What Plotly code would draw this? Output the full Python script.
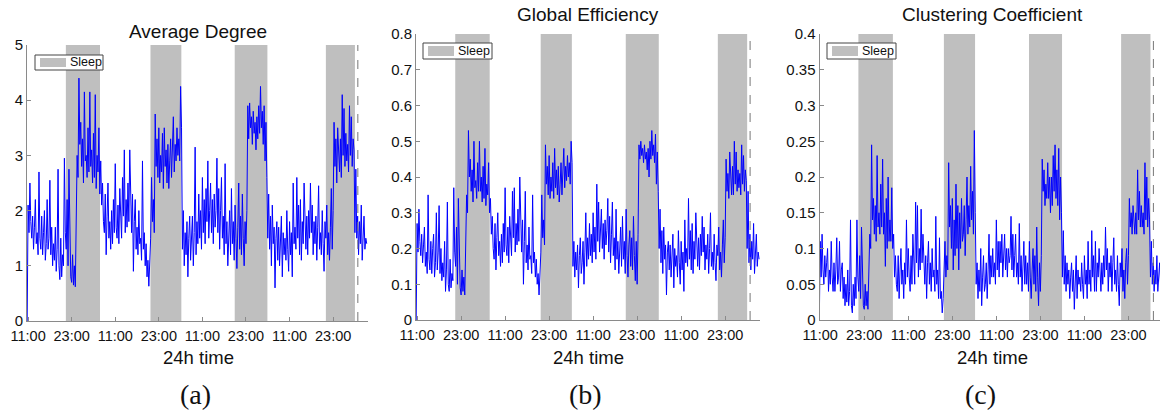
import plotly.graph_objects as go

# ---------------- data ----------------
# samples every 0.25 h, first sample at -0.25 h (0 h = 11:00 of day 1)
T_START = -0.25
T_STEP = 0.25

avg_degree = [
    0.0,
    2.1, 1.6, 2.5, 1.8,  1.5, 1.9, 1.3, 1.7,  2.2, 1.4, 1.6, 1.2,  2.7, 1.5, 1.3, 1.9,
    1.2, 1.6, 2.0, 1.1,  1.4, 2.2, 1.3, 1.5,  2.55, 1.2, 1.7, 1.0,  1.4, 1.1, 1.7, 0.9,
    1.3, 2.75, 1.0, 0.75,  1.5, 0.8, 1.2, 1.0,  2.95, 1.6, 1.3, 2.2,  1.0, 2.75, 1.4, 0.8,
    0.7, 1.2, 0.65, 1.0,  0.62, 1.9, 3.0, 2.6,  4.4, 3.2, 3.6, 2.8,  3.3, 2.5, 4.15, 2.9,
    3.0, 2.6, 3.5, 2.7,  4.15, 2.8, 3.1, 2.5,  3.4, 2.6, 4.1, 2.4,  3.0, 2.7, 3.5, 2.3,
    2.9, 2.1, 2.5, 1.8,  1.6, 2.3, 1.2, 1.9,  2.5, 1.5, 1.8, 1.3,  2.0, 1.4, 2.2, 1.6,
    2.85, 1.7, 1.5, 2.1,  1.4, 2.4, 1.8, 1.5,  2.6, 1.9, 3.1, 1.6,  2.2, 1.7, 2.5, 1.8,
    3.1, 2.0, 1.6, 2.3,  0.9, 1.8, 2.2, 1.3,  1.7, 1.2, 2.0, 1.4,  1.5, 1.1, 2.9, 1.3,
    1.6, 1.0, 1.4, 0.8,  1.1, 0.63, 1.0, 1.5,  2.6, 1.8, 2.2, 1.6,  3.75, 2.8, 3.3, 2.6,
    3.5, 2.5, 3.0, 2.7,  3.4, 2.4, 3.5, 2.8,  3.1, 2.5, 3.2, 2.4,  2.9, 3.3, 2.6, 3.0,
    3.7, 2.7, 3.2, 2.9,  3.5, 3.0, 3.3, 2.9,  4.25, 3.5, 1.3, 2.0,  1.0, 1.6, 1.2, 1.8,
    0.8, 1.5, 1.9, 1.1,  1.4, 1.9, 1.0, 1.6,  3.15, 1.2, 1.8, 1.4,  2.3, 1.5, 2.0, 1.3,
    2.6, 1.6, 2.2, 1.4,  2.4, 1.8, 2.9, 1.5,  2.0, 2.5, 1.6, 2.2,  1.4, 2.3, 1.7, 2.0,
    2.95, 1.6, 2.4, 1.3,  2.0, 2.6, 1.5, 1.9,  1.2, 2.85, 1.4, 1.8,  1.0, 1.7, 2.0, 1.2,
    2.4, 1.4, 1.8, 1.1,  2.1, 1.5, 0.95, 1.7,  2.5, 1.3, 1.9, 1.2,  2.3, 1.5, 1.0, 1.8,
    1.4, 2.0, 3.9, 3.3,  3.95, 3.5, 3.7, 3.2,  3.8, 3.4, 3.6, 3.1,  3.7, 3.3, 3.9, 3.4,
    4.25, 3.5, 3.8, 3.2,  3.9, 2.9, 3.6, 2.6,  1.5, 2.3, 1.3, 1.9,  1.0, 2.1, 1.4, 1.7,
    0.6, 1.5, 1.8, 1.1,  1.7, 1.0, 1.4, 1.9,  0.8, 1.6, 1.2, 1.5,  1.1, 2.0, 1.3, 0.9,
    1.8, 1.2, 1.6, 0.8,  2.5, 1.4, 1.7, 1.3,  2.6, 1.5, 2.1, 1.2,  2.2, 1.1, 1.8, 1.4,
    2.5, 1.6, 1.3, 1.9,  1.2, 2.0, 1.5, 2.5,  1.6, 2.1, 1.2, 1.8,  1.4, 1.9, 1.1, 1.7,
    2.45, 1.3, 1.6, 1.2,  2.0, 1.4, 0.9, 1.8,  1.5, 2.1, 1.2, 1.6,  1.1, 1.7, 2.4, 1.3,
    2.0, 3.6, 2.8, 3.3,  2.5, 3.5, 2.9, 2.7,  3.3, 2.6, 4.1, 3.0,  3.85, 2.8, 3.4, 2.9,
    3.2, 2.7, 3.9, 3.0,  3.7, 2.8, 3.3, 3.1,  1.6, 2.75, 1.5, 1.9,  1.2, 1.8, 1.4, 2.1,
    1.1, 1.6, 1.9, 1.3,  1.5, 1.4,
]

global_eff = [
    0.0,
    0.27, 0.19, 0.31, 0.22,  0.18, 0.24, 0.16, 0.21,  0.26, 0.15, 0.19, 0.13,  0.35, 0.17, 0.14, 0.22,
    0.13, 0.20, 0.24, 0.12,  0.16, 0.30, 0.14, 0.19,  0.32, 0.13, 0.20, 0.11,  0.16, 0.12, 0.22, 0.08,
    0.14, 0.33, 0.10, 0.08,  0.17, 0.09, 0.13, 0.11,  0.37, 0.19, 0.15, 0.26,  0.10, 0.34, 0.16, 0.09,
    0.07, 0.14, 0.08, 0.12,  0.07, 0.24, 0.35, 0.30,  0.53, 0.40, 0.45, 0.36,  0.42, 0.33, 0.50, 0.37,
    0.39, 0.34, 0.44, 0.36,  0.50, 0.36, 0.40, 0.33,  0.43, 0.34, 0.48, 0.32,  0.38, 0.35, 0.44, 0.30,
    0.34, 0.24, 0.29, 0.20,  0.17, 0.27, 0.14, 0.23,  0.30, 0.18, 0.22, 0.15,  0.24, 0.16, 0.27, 0.19,
    0.37, 0.21, 0.18, 0.26,  0.16, 0.29, 0.22, 0.18,  0.36, 0.23, 0.37, 0.19,  0.27, 0.21, 0.31, 0.22,
    0.40, 0.25, 0.19, 0.28,  0.10, 0.22, 0.36, 0.16,  0.21, 0.14, 0.26, 0.17,  0.18, 0.13, 0.35, 0.16,
    0.19, 0.12, 0.17, 0.10,  0.13, 0.07, 0.12, 0.19,  0.35, 0.23, 0.28, 0.21,  0.49, 0.38, 0.43, 0.35,
    0.46, 0.34, 0.40, 0.36,  0.44, 0.34, 0.48, 0.37,  0.42, 0.35, 0.43, 0.33,  0.38, 0.44, 0.35, 0.40,
    0.48, 0.37, 0.43, 0.39,  0.46, 0.40, 0.44, 0.38,  0.50, 0.44, 0.15, 0.22,  0.12, 0.19, 0.14, 0.21,
    0.09, 0.18, 0.23, 0.13,  0.16, 0.22, 0.10, 0.19,  0.30, 0.15, 0.23, 0.17,  0.27, 0.18, 0.24, 0.16,
    0.30, 0.19, 0.26, 0.17,  0.38, 0.22, 0.33, 0.19,  0.25, 0.31, 0.20, 0.27,  0.17, 0.28, 0.21, 0.25,
    0.34, 0.19, 0.29, 0.16,  0.24, 0.33, 0.18, 0.23,  0.14, 0.31, 0.17, 0.22,  0.13, 0.20, 0.26, 0.15,
    0.29, 0.17, 0.22, 0.13,  0.31, 0.18, 0.12, 0.21,  0.25, 0.15, 0.23, 0.14,  0.29, 0.18, 0.11, 0.22,
    0.10, 0.24, 0.49, 0.45,  0.50, 0.46, 0.48, 0.44,  0.49, 0.45, 0.47, 0.42,  0.48, 0.40, 0.50, 0.45,
    0.53, 0.46, 0.49, 0.44,  0.52, 0.38, 0.47, 0.36,  0.20, 0.31, 0.16, 0.25,  0.13, 0.26, 0.17, 0.21,
    0.07, 0.19, 0.22, 0.14,  0.21, 0.12, 0.17, 0.24,  0.09, 0.20, 0.15, 0.18,  0.12, 0.25, 0.16, 0.10,
    0.22, 0.14, 0.19, 0.08,  0.28, 0.16, 0.20, 0.15,  0.34, 0.17, 0.25, 0.14,  0.27, 0.13, 0.22, 0.17,
    0.30, 0.19, 0.15, 0.23,  0.14, 0.24, 0.18, 0.29,  0.19, 0.26, 0.14, 0.21,  0.17, 0.24, 0.13, 0.20,
    0.30, 0.15, 0.19, 0.14,  0.24, 0.16, 0.11, 0.21,  0.18, 0.26, 0.14, 0.19,  0.12, 0.21, 0.28, 0.16,
    0.23, 0.45, 0.36, 0.41,  0.34, 0.47, 0.37, 0.35,  0.43, 0.35, 0.50, 0.38,  0.47, 0.36, 0.42, 0.37,
    0.41, 0.35, 0.49, 0.38,  0.46, 0.36, 0.42, 0.39,  0.20, 0.36, 0.16, 0.24,  0.14, 0.22, 0.17, 0.27,
    0.13, 0.20, 0.24, 0.15,  0.19, 0.17,
]

clustering = [
    0.0,
    0.11, 0.06, 0.12, 0.07,  0.05, 0.09, 0.06, 0.08,  0.10, 0.04, 0.07, 0.05,  0.11, 0.06, 0.04, 0.08,
    0.04, 0.07, 0.115, 0.05,  0.06, 0.11, 0.04, 0.07,  0.08, 0.03, 0.06, 0.02,  0.05, 0.025, 0.07, 0.02,
    0.04, 0.14, 0.02, 0.01,  0.05, 0.02, 0.06, 0.03,  0.14, 0.06, 0.04, 0.09,  0.03, 0.13, 0.05, 0.02,
    0.015, 0.05, 0.02, 0.04,  0.015, 0.08, 0.12, 0.10,  0.245, 0.14, 0.17, 0.12,  0.16, 0.11, 0.23, 0.13,
    0.15, 0.12, 0.19, 0.13,  0.225, 0.12, 0.15, 0.075,  0.17, 0.10, 0.20, 0.11,  0.14, 0.11, 0.185, 0.10,
    0.12, 0.06, 0.09, 0.05,  0.04, 0.09, 0.03, 0.07,  0.10, 0.05, 0.07, 0.03,  0.08, 0.05, 0.14, 0.06,
    0.10, 0.06, 0.04, 0.09,  0.05, 0.12, 0.07, 0.05,  0.165, 0.08, 0.16, 0.06,  0.10, 0.07, 0.155, 0.08,
    0.12, 0.07, 0.05, 0.09,  0.03, 0.08, 0.11, 0.05,  0.08, 0.04, 0.10, 0.06,  0.07, 0.04, 0.145, 0.05,
    0.07, 0.03, 0.115, 0.03,  0.04, 0.01, 0.03, 0.07,  0.11, 0.06, 0.09, 0.07,  0.22, 0.13, 0.16, 0.10,
    0.17, 0.07, 0.14, 0.09,  0.19, 0.10, 0.16, 0.07,  0.15, 0.10, 0.17, 0.11,  0.12, 0.16, 0.09, 0.14,
    0.20, 0.12, 0.16, 0.13,  0.215, 0.14, 0.18, 0.12,  0.265, 0.15, 0.05, 0.08,  0.03, 0.07, 0.04, 0.10,
    0.02, 0.06, 0.09, 0.04,  0.05, 0.08, 0.03, 0.07,  0.12, 0.05, 0.09, 0.06,  0.10, 0.06, 0.08, 0.05,
    0.14, 0.07, 0.11, 0.06,  0.11, 0.08, 0.12, 0.06,  0.09, 0.12, 0.07, 0.10,  0.06, 0.10, 0.08, 0.09,
    0.145, 0.07, 0.12, 0.06,  0.09, 0.12, 0.06, 0.08,  0.05, 0.135, 0.06, 0.09,  0.04, 0.08, 0.11, 0.05,
    0.09, 0.05, 0.08, 0.04,  0.11, 0.06, 0.03, 0.07,  0.10, 0.05, 0.09, 0.04,  0.13, 0.06, 0.02, 0.08,
    0.04, 0.09, 0.225, 0.18,  0.21, 0.16, 0.19, 0.17,  0.22, 0.17, 0.20, 0.15,  0.20, 0.16, 0.23, 0.18,
    0.245, 0.17, 0.21, 0.16,  0.24, 0.14, 0.20, 0.15,  0.06, 0.125, 0.05, 0.09,  0.04, 0.08, 0.05, 0.07,
    0.03, 0.06, 0.08, 0.04,  0.07, 0.015, 0.05, 0.09,  0.03, 0.07, 0.05, 0.06,  0.04, 0.08, 0.05, 0.03,
    0.09, 0.05, 0.07, 0.03,  0.11, 0.05, 0.07, 0.04,  0.125, 0.06, 0.09, 0.04,  0.11, 0.04, 0.08, 0.06,
    0.10, 0.06, 0.04, 0.08,  0.05, 0.09, 0.06, 0.13,  0.07, 0.10, 0.04, 0.08,  0.06, 0.09, 0.04, 0.08,
    0.115, 0.05, 0.07, 0.04,  0.09, 0.05, 0.02, 0.08,  0.06, 0.10, 0.04, 0.07,  0.03, 0.08, 0.10, 0.05,
    0.09, 0.17, 0.13, 0.15,  0.12, 0.16, 0.13, 0.12,  0.15, 0.12, 0.21, 0.14,  0.18, 0.13, 0.16, 0.13,
    0.15, 0.12, 0.22, 0.14,  0.20, 0.13, 0.17, 0.14,  0.06, 0.11, 0.05, 0.08,  0.04, 0.07, 0.05, 0.09,
    0.04, 0.06, 0.08, 0.05,  0.07, 0.06,
]

sleep_start = [10.4, 33.7, 56.9, 82.0]   # hours after 11:00
sleep_end = [19.8, 42.2, 65.9, 90.0]
record_end = 90.8

x_tick_hours = [0, 12, 24, 36, 48, 60, 72, 84]
x_tick_text = ["11:00", "23:00", "11:00", "23:00", "11:00", "23:00", "11:00", "23:00"]

titles = ["Average Degree", "Global Efficiency", "Clustering Coefficient"]
captions = ["(a)", "(b)", "(c)"]

y_ticks_a = [0, 1, 2, 3, 4, 5]
y_text_a = ["0", "1", "2", "3", "4", "5"]
y_ticks_b = [0, 0.1, 0.2, 0.3, 0.4, 0.5, 0.6, 0.7, 0.8]
y_text_b = ["0", "0.1", "0.2", "0.3", "0.4", "0.5", "0.6", "0.7", "0.8"]
y_ticks_c = [0, 0.05, 0.1, 0.15, 0.2, 0.25, 0.3, 0.35, 0.4]
y_text_c = ["0", "0.05", "0.1", "0.15", "0.2", "0.25", "0.3", "0.35", "0.4"]

# ---------------- layout helpers ----------------
W, H = 1160, 412
FONT = "Liberation Sans, Arial, Helvetica, sans-serif"
SERIF = "Liberation Serif, Times New Roman, serif"
AX = "#8a8a8a"
SLEEP = "rgb(191,191,191)"


def px(x):
    return x / W


def py(y):
    return 1 - y / H


panels = [
    dict(vals=avg_degree, xdom=[px(27), px(368)], ydom=[py(321), py(45)], xr=[-0.3, 93.6],
         yr=[0, 5], yt=y_ticks_a, ytt=y_text_a, title_xy=(198, 32), xlab_x=198, cap_x=195,
         leg=(35, 55, 103, 70)),
    dict(vals=global_eff, xdom=[px(416), px(760)], ydom=[py(320), py(34)], xr=[-0.3, 93.5],
         yr=[0, 0.8], yt=y_ticks_b, ytt=y_text_b, title_xy=(588, 15), xlab_x=588, cap_x=585,
         leg=(423, 43, 492, 59)),
    dict(vals=clustering, xdom=[px(819.5), 1.0], ydom=[py(320), py(34)], xr=[-0.2, 92.6],
         yr=[0, 0.4], yt=y_ticks_c, ytt=y_text_c, title_xy=(992, 15), xlab_x=992, cap_x=980,
         leg=(827, 43, 896, 59)),
]

fig = go.Figure()
shapes = []
annotations = []

for i, p in enumerate(panels):
    n = "" if i == 0 else str(i + 1)
    xa, ya = "x" + n, "y" + n
    hours = [T_START + T_STEP * k for k in range(len(p["vals"]))]
    fig.add_trace(go.Scatter(x=hours, y=p["vals"], mode="lines",
                             line=dict(color="#0000ff", width=1.0),
                             xaxis=xa, yaxis=ya, showlegend=False, hoverinfo="skip"))

    axis_common = dict(showline=True, linecolor=AX, linewidth=1, ticks="inside", ticklen=4,
                       tickcolor=AX, showgrid=False, zeroline=False, mirror=False,
                       automargin=False)
    fig.update_layout(**{
        "xaxis" + n: dict(domain=p["xdom"], range=p["xr"], anchor=ya, ticklabelstandoff=2,
                          tickvals=x_tick_hours, ticktext=x_tick_text,
                          tickfont=dict(family=FONT, size=14.5, color="#111"), **axis_common),
        "yaxis" + n: dict(domain=p["ydom"], range=p["yr"], anchor=xa,
                          tickvals=p["yt"], ticktext=p["ytt"],
                          tickfont=dict(family=FONT, size=15, color="#111"), **axis_common),
    })

    # sleep bands
    for s, e in zip(sleep_start, sleep_end):
        shapes.append(dict(type="rect", xref=xa, yref=ya + " domain", x0=s, x1=e, y0=0, y1=1,
                           fillcolor=SLEEP, line=dict(width=0), layer="below"))
    # end-of-record dashed line
    shapes.append(dict(type="line", xref=xa, yref=ya + " domain", x0=record_end, x1=record_end,
                       y0=0, y1=1, line=dict(color="#777", width=1, dash="dash"), layer="above"))

    # legend box (manual)
    lx0, ly0, lx1, ly1 = p["leg"]
    shapes.append(dict(type="rect", xref="paper", yref="paper", x0=px(lx0), x1=px(lx1),
                       y0=py(ly1), y1=py(ly0), fillcolor="white",
                       line=dict(color="#444", width=1), layer="above"))
    shapes.append(dict(type="rect", xref="paper", yref="paper", x0=px(lx0 + 5), x1=px(lx0 + 31),
                       y0=py(ly1 - 3), y1=py(ly0 + 3), fillcolor=SLEEP,
                       line=dict(width=0), layer="above"))
    annotations.append(dict(text="Sleep", xref="paper", yref="paper", x=px(lx0 + 33),
                            y=py((ly0 + ly1) / 2), xanchor="left", yanchor="middle",
                            showarrow=False, font=dict(family=FONT, size=12.5, color="#111")))

    # title, x label, caption
    tx, ty = p["title_xy"]
    annotations.append(dict(text=titles[i], xref="paper", yref="paper", x=px(tx), y=py(ty),
                            xanchor="center", yanchor="middle", showarrow=False,
                            font=dict(family=FONT, size=19, color="#111")))
    annotations.append(dict(text="24h time", xref="paper", yref="paper", x=px(p["xlab_x"]),
                            y=py(357), xanchor="center", yanchor="middle", showarrow=False,
                            font=dict(family=FONT, size=18.5, color="#111")))
    annotations.append(dict(text=captions[i], xref="paper", yref="paper", x=px(p["cap_x"]),
                            y=py(394), xanchor="center", yanchor="middle", showarrow=False,
                            font=dict(family=SERIF, size=28, color="#111")))

fig.update_layout(width=W, height=H, margin=dict(l=0, r=0, t=0, b=0),
                  paper_bgcolor="white", plot_bgcolor="white",
                  shapes=shapes, annotations=annotations, showlegend=False)

fig.write_html("out.html", config={"displayModeBar": False})
